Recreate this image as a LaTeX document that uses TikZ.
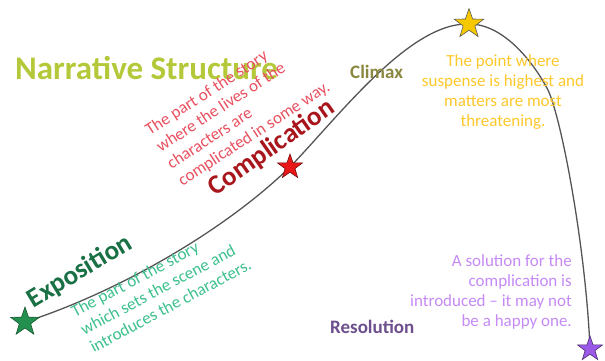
\documentclass[tikz,border=0pt]{standalone}
\usepackage{fontspec}
\setmainfont{Carlito}
\usetikzlibrary{shapes.geometric}
\definecolor{titlecol}{HTML}{B5C83A}
\definecolor{redtxt}{HTML}{E8505F}
\definecolor{compcol}{HTML}{A8161C}
\definecolor{climcol}{HTML}{8A8840}
\definecolor{yeltxt}{HTML}{FFC82A}
\definecolor{expocol}{HTML}{1A7045}
\definecolor{greentxt}{HTML}{3CC08C}
\definecolor{purptxt}{HTML}{C58AF5}
\definecolor{resocol}{HTML}{6C4F8C}
\definecolor{curvecol}{HTML}{555555}
\definecolor{stargreen}{HTML}{23904F}
\definecolor{starred}{HTML}{E81818}
\definecolor{staryellow}{HTML}{F5C800}
\definecolor{starpurple}{HTML}{9B59E8}
\tikzset{
  starnode/.style={star, star points=5, star point ratio=2.5, inner sep=0pt, line width=0.6pt},
  curveline/.style={draw=curvecol, line width=1.3pt},
  smalltext/.style={inner sep=0pt, font=\fontsize{17}{20}\selectfont},
  bigtext/.style={inner sep=0pt, font=\fontsize{27}{32}\selectfont\bfseries},
}
\begin{document}
\begin{tikzpicture}[x=1pt,y=-1pt]
\useasboundingbox (0,0) rectangle (605,361);
\coordinate (g) at (25,322);
\coordinate (r) at (290,167);
\coordinate (y) at (469,24);
\coordinate (m) at (548,90);
\coordinate (p) at (590,349);
\draw[curveline] (g) .. controls (110,295) and (220,235) .. (r)
  .. controls (340,115) and (410,22) .. (y)
  .. controls (505,24) and (535,65) .. (m)
  .. controls (562,120) and (586,250) .. (p);
\node[starnode, fill=stargreen, draw=stargreen!60!black, minimum size=30pt] (gs) at (g) {};
\node[starnode, fill=starred, draw=starred!50!black, minimum size=26pt] (rs) at (r) {};
\node[starnode, fill=staryellow, draw=black!65, minimum size=31pt] (ys) at (y) {};
\node[starnode, fill=starpurple, draw=starpurple!50!black, minimum size=26pt] (ps) at (p) {};

\node[inner sep=0pt, anchor=base west, text=titlecol, font=\fontsize{33}{36}\selectfont\bfseries] (title) at (15,80) {Narrative Structure};

\node[smalltext, text=redtxt, align=left, rotate=33] (redt) at (238,109) {The part of the story\\where the lives of the\\characters are\\complicated in some way.};
\node[bigtext, text=compcol, rotate=35, anchor=base] (comp) at (276,154) {Complication};

\node[inner sep=0pt, anchor=base west, text=climcol, font=\fontsize{19}{22}\selectfont\bfseries] (clim) at (350,78) {Climax};
\node[smalltext, text=yeltxt, align=center] (yelt) at (503,92) {The point where\\suspense is highest and\\matters are most\\threatening.};

\node[bigtext, text=expocol, rotate=31, anchor=base] (expo) at (84,278) {Exposition};
\node[smalltext, text=greentxt, align=left, rotate=28] (greent) at (161,288) {The part of the story\\which sets the scene and\\introduces the characters.};

\node[smalltext, text=purptxt, align=right, anchor=east] (purpt) at (572,292) {A solution for the\\complication is\\introduced -- it may not\\be a happy one.};
\node[inner sep=0pt, anchor=west, text=resocol, font=\fontsize{19}{22}\selectfont\bfseries] (reso) at (330,327) {Resolution};
\end{tikzpicture}
\end{document}
